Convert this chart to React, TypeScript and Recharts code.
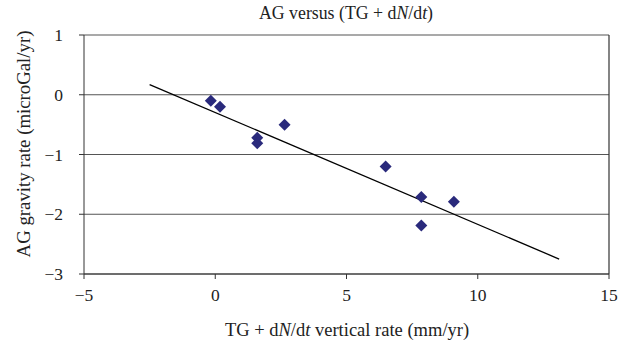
import React from "react";
import {
  ScatterChart,
  Scatter,
  XAxis,
  YAxis,
  CartesianGrid,
  ReferenceLine,
  Customized,
} from "recharts";

const xValues = [-0.17, 0.18, 1.6, 1.6, 2.64, 6.49, 7.85, 9.09, 7.85];
const yValues = [-0.1, -0.2, -0.72, -0.81, -0.5, -1.2, -1.71, -1.79, -2.19];
const trendX = [-2.5, 13.1];
const trendY = [0.17, -2.75];
const xTicks = [-5, 0, 5, 10, 15];
const yTicks = [-3, -2, -1, 0, 1];

const points = xValues.map((x, i) => ({ x, y: yValues[i] }));

const FONT = "'Liberation Serif', 'Times New Roman', serif";
const fmt = (v: number) => (v < 0 ? `\u2212${Math.abs(v)}` : `${v}`);

const Diamond = (props: any) => {
  const { cx, cy } = props;
  const r = 6;
  return (
    <polygon
      points={`${cx},${cy - r} ${cx + r},${cy} ${cx},${cy + r} ${cx - r},${cy}`}
      fill="#2A2A7C"
    />
  );
};

const Texts = () => (
  <g fontFamily={FONT} fill="#222">
    <text x={346} y={19} textAnchor="middle" fontSize={17.8}>
      AG versus (TG + d<tspan fontStyle="italic">N</tspan>/d
      <tspan fontStyle="italic">t</tspan>)
    </text>
    <text x={347} y={336} textAnchor="middle" fontSize={18.5}>
      TG + d<tspan fontStyle="italic">N</tspan>/d
      <tspan fontStyle="italic">t</tspan> vertical rate (mm/yr)
    </text>
    <text
      x={30}
      y={144}
      textAnchor="middle"
      fontSize={18.8}
      transform="rotate(-90, 30, 144)"
    >
      AG gravity rate (microGal/yr)
    </text>
  </g>
);

export default function App() {
  return (
    <div>
      <style>{`body{margin:0;background:#fff}`}</style>
      <ScatterChart
        width={639}
        height={347}
        margin={{ top: 35, right: 30, bottom: 0, left: 0 }}
      >
        <CartesianGrid vertical={false} stroke="#555" strokeWidth={1.2} />
        <XAxis
          type="number"
          dataKey="x"
          domain={[-5, 15]}
          ticks={xTicks}
          tickFormatter={fmt}
          height={73}
          stroke="#333"
          tickSize={5}
          tickMargin={10}
          tick={{ fill: "#222", fontSize: 17.5, fontFamily: FONT }}
          interval={0}
        />
        <YAxis
          type="number"
          dataKey="y"
          domain={[-3, 1]}
          ticks={yTicks}
          tickFormatter={fmt}
          width={84}
          stroke="#333"
          tickSize={5}
          tickMargin={16}
          tick={{ fill: "#222", fontSize: 17.5, fontFamily: FONT }}
          interval={0}
        />
        <ReferenceLine x={15} stroke="#333" strokeWidth={1.2} />
        <ReferenceLine
          segment={[
            { x: trendX[0], y: trendY[0] },
            { x: trendX[1], y: trendY[1] },
          ]}
          stroke="#000"
          strokeWidth={1.3}
        />
        <Scatter
          data={points}
          shape={Diamond}
          isAnimationActive={false}
        />
        <Customized component={Texts} />
      </ScatterChart>
    </div>
  );
}
